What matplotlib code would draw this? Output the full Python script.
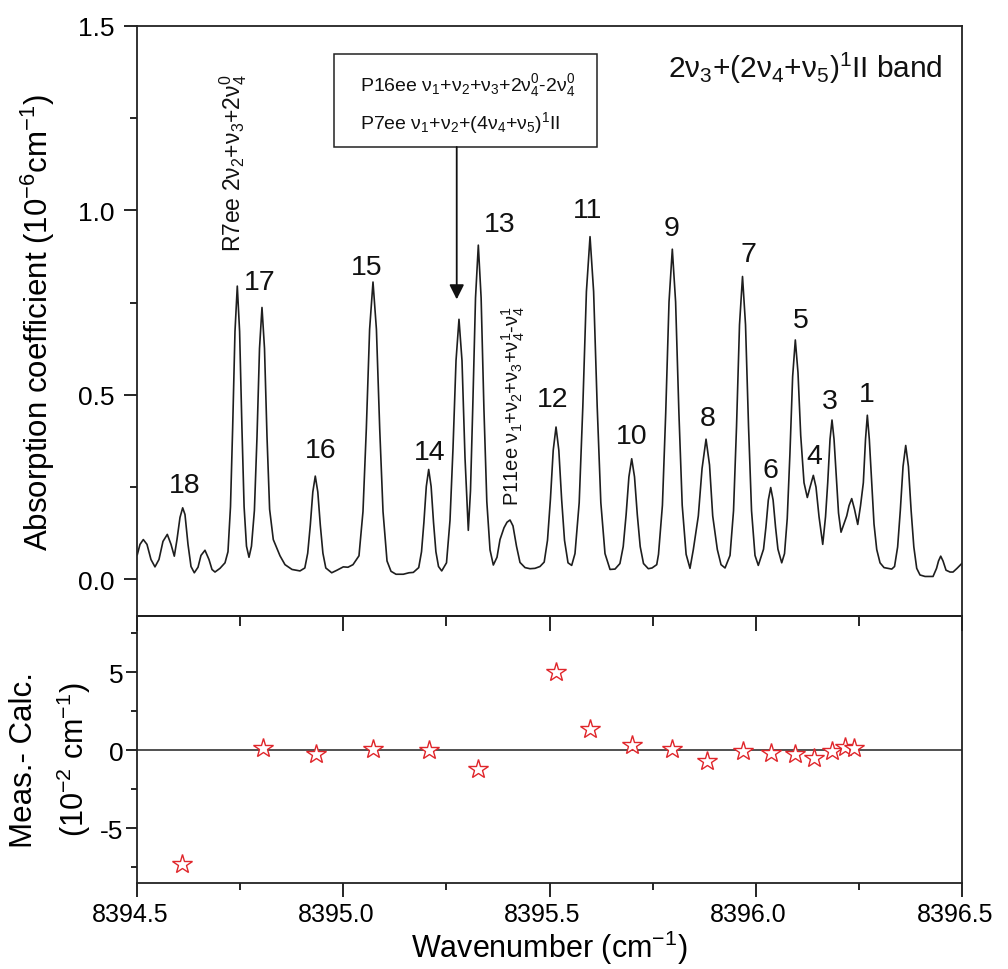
import matplotlib
matplotlib.use('Agg')
import matplotlib.pyplot as plt
import matplotlib.transforms as mtransforms
from matplotlib.ticker import MultipleLocator, FormatStrFormatter
from matplotlib.patches import Rectangle

plt.rcParams['font.family'] = ['Liberation Sans', 'DejaVu Sans']
plt.rcParams['mathtext.fontset'] = 'custom'
plt.rcParams['mathtext.rm'] = 'Liberation Sans'
plt.rcParams['mathtext.it'] = 'Liberation Sans'
plt.rcParams['mathtext.bf'] = 'Liberation Sans:bold'
plt.rcParams['mathtext.default'] = 'regular'
plt.rcParams['axes.unicode_minus'] = False

# ---------------- data ----------------
wavenumber = [
    8394.5000, 8394.5066, 8394.5146, 8394.5235, 8394.5332, 8394.5429, 8394.5526, 8394.5623, 8394.5728, 8394.5818,
    8394.5898, 8394.5963, 8394.6036, 8394.6101, 8394.6157, 8394.6230, 8394.6303, 8394.6383, 8394.6473, 8394.6545,
    8394.6642, 8394.6739, 8394.6812, 8394.6885, 8394.7006, 8394.7128,
    8394.7200, 8394.7261, 8394.7314, 8394.7370, 8394.7426, 8394.7482, 8394.7538, 8394.7591, 8394.7649, 8394.7710,
    8394.7770, 8394.7841, 8394.7904, 8394.7965, 8394.8025, 8394.8086, 8394.8147, 8394.8210, 8394.8299, 8394.8365,
    8394.8462, 8394.8583, 8394.8753, 8394.8947,
    8394.9064, 8394.9134, 8394.9197, 8394.9258, 8394.9318, 8394.9379, 8394.9440, 8394.9503, 8394.9573, 8394.9716,
    8394.9845, 8394.9998, 8395.0111, 8395.0233,
    8395.0378, 8395.0475, 8395.0556, 8395.0636, 8395.0718, 8395.0801, 8395.0881, 8395.0961, 8395.1058, 8395.1155,
    8395.1276, 8395.1453, 8395.1591, 8395.1696,
    8395.1827, 8395.1895, 8395.1953, 8395.2011, 8395.2069, 8395.2128, 8395.2186, 8395.2244, 8395.2307, 8395.2385,
    8395.2501, 8395.2586, 8395.2659, 8395.2732, 8395.2804, 8395.2877, 8395.2950, 8395.3030,
    8395.3083, 8395.3137, 8395.3205, 8395.3273, 8395.3341, 8395.3409, 8395.3479, 8395.3557, 8395.3637, 8395.3726,
    8395.3799, 8395.3896, 8395.3969, 8395.4042, 8395.4114, 8395.4199, 8395.4284, 8395.4406, 8395.4527, 8395.4648,
    8395.4769,
    8395.4871, 8395.4951, 8395.5022, 8395.5090, 8395.5158, 8395.5226, 8395.5294, 8395.5364, 8395.5449, 8395.5538,
    8395.5618, 8395.5720, 8395.5808, 8395.5895, 8395.5983, 8395.6070, 8395.6157, 8395.6245, 8395.6346, 8395.6468,
    8395.6589,
    8395.6708, 8395.6788, 8395.6858, 8395.6926, 8395.6994, 8395.7062, 8395.7130, 8395.7200, 8395.7280, 8395.7397,
    8395.7487, 8395.7601,
    8395.7644, 8395.7739, 8395.7819, 8395.7899, 8395.7979, 8395.8059, 8395.8139, 8395.8219, 8395.8314, 8395.8408,
    8395.8489, 8395.8610, 8395.8700, 8395.8797, 8395.8882, 8395.8959, 8395.9071, 8395.9161, 8395.9258,
    8395.9379, 8395.9464, 8395.9537, 8395.9609, 8395.9682, 8395.9755, 8395.9828, 8395.9901, 8395.9985, 8396.0065,
    8396.0192, 8396.0250, 8396.0308, 8396.0366, 8396.0424, 8396.0483, 8396.0541, 8396.0633,
    8396.0701, 8396.0767, 8396.0832, 8396.0898, 8396.0963, 8396.1028, 8396.1094, 8396.1174, 8396.1254,
    8396.1320, 8396.1400, 8396.1465, 8396.1538, 8396.1628,
    8396.1696, 8396.1749, 8396.1805, 8396.1853, 8396.1902, 8396.1967, 8396.2011, 8396.2072,
    8396.2210, 8396.2266, 8396.2331, 8396.2399, 8396.2477,
    8396.2545, 8396.2613, 8396.2666, 8396.2710, 8396.2758, 8396.2817, 8396.2872, 8396.2938, 8396.3018, 8396.3115,
    8396.3302,
    8396.3370, 8396.3445, 8396.3510, 8396.3576, 8396.3641, 8396.3707, 8396.3772, 8396.3838, 8396.3908, 8396.3988,
    8396.4110, 8396.4304,
    8396.4389, 8396.4437, 8396.4490, 8396.4546, 8396.4619, 8396.4716, 8396.4789, 8396.4886, 8396.5000,
]

absorption = [
    0.067, 0.095, 0.108, 0.095, 0.054, 0.034, 0.054, 0.103, 0.122, 0.095,
    0.063, 0.108, 0.168, 0.194, 0.176, 0.095, 0.035, 0.018, 0.033, 0.065,
    0.079, 0.054, 0.027, 0.020, 0.030, 0.045,
    0.075, 0.197, 0.413, 0.672, 0.795, 0.672, 0.413, 0.197, 0.090, 0.060,
    0.090, 0.187, 0.386, 0.626, 0.737, 0.626, 0.386, 0.190, 0.108, 0.090,
    0.064, 0.040, 0.027, 0.023,
    0.031, 0.071, 0.147, 0.237, 0.280, 0.237, 0.147, 0.071, 0.031, 0.018,
    0.025, 0.034, 0.033, 0.040,
    0.064, 0.184, 0.408, 0.678, 0.806, 0.678, 0.408, 0.184, 0.050, 0.022,
    0.014, 0.014, 0.018, 0.019,
    0.032, 0.075, 0.155, 0.252, 0.298, 0.252, 0.155, 0.075, 0.035, 0.023,
    0.045, 0.160, 0.356, 0.593, 0.705, 0.593, 0.330, 0.133,
    0.240, 0.462, 0.763, 0.906, 0.763, 0.462, 0.211, 0.080, 0.039, 0.060,
    0.108, 0.140, 0.155, 0.161, 0.145, 0.090, 0.046, 0.032, 0.029, 0.030,
    0.035,
    0.047, 0.106, 0.217, 0.350, 0.413, 0.350, 0.217, 0.106, 0.045, 0.038,
    0.070, 0.208, 0.468, 0.780, 0.929, 0.780, 0.468, 0.208, 0.070, 0.027,
    0.028,
    0.043, 0.089, 0.175, 0.278, 0.327, 0.278, 0.175, 0.089, 0.043, 0.029,
    0.031, 0.040,
    0.068, 0.201, 0.451, 0.752, 0.895, 0.752, 0.451, 0.201, 0.068, 0.030,
    0.081, 0.172, 0.300, 0.380, 0.310, 0.172, 0.081, 0.040, 0.031,
    0.065, 0.186, 0.415, 0.690, 0.821, 0.690, 0.415, 0.186, 0.065, 0.038,
    0.082, 0.142, 0.215, 0.249, 0.215, 0.142, 0.082, 0.045,
    0.070, 0.165, 0.340, 0.550, 0.649, 0.560, 0.390, 0.262, 0.222,
    0.250, 0.282, 0.250, 0.170, 0.095,
    0.170, 0.262, 0.380, 0.432, 0.380, 0.262, 0.180, 0.128,
    0.172, 0.200, 0.219, 0.190, 0.149,
    0.200, 0.262, 0.380, 0.445, 0.380, 0.262, 0.150, 0.081, 0.045, 0.032,
    0.028,
    0.035, 0.088, 0.187, 0.306, 0.363, 0.306, 0.187, 0.088, 0.030, 0.012,
    0.008, 0.008,
    0.030, 0.050, 0.063, 0.050, 0.025, 0.020, 0.020, 0.030, 0.043,
]

# residuals (Meas. - Calc.), 10^-2 cm^-1
res_wavenumber = [8394.6092, 8394.8057, 8394.9328, 8395.0711, 8395.2077, 8395.3273,
                  8395.5158, 8395.5990, 8395.7001, 8395.7979, 8395.8814, 8395.9687,
                  8396.0373, 8396.0956, 8396.1417, 8396.1846, 8396.2169, 8396.2387]
res_value = [-7.26, 0.17, -0.24, 0.08, 0.00, -1.17,
             5.00, 1.37, 0.34, 0.08, -0.69, -0.06,
             -0.15, -0.21, -0.47, -0.04, 0.22, 0.15]

# line numbers (text) shown above the peaks
line_numbers = ['18', '17', '16', '15', '14', '13', '12', '11', '10',
                '9', '8', '7', '6', '5', '4', '3', '1']
# layout: where each line number is written (data coordinates)
line_number_pos = [(8394.614, 0.255), (8394.798, 0.805), (8394.944, 0.351), (8395.057, 0.848),
                   (8395.210, 0.344), (8395.378, 0.963), (8395.508, 0.488), (8395.593, 1.001),
                   (8395.700, 0.389), (8395.795, 0.952), (8395.883, 0.437), (8395.982, 0.881),
                   (8396.037, 0.297), (8396.109, 0.702), (8396.142, 0.334), (8396.181, 0.484),
                   (8396.270, 0.502)]

x_ticks = [8394.5, 8395.0, 8395.5, 8396.0, 8396.5]

# ---------------- figure ----------------
fig = plt.figure(figsize=(10.08, 9.70), dpi=100)
ax1 = fig.add_axes([0.1362, 0.3636, 0.8179, 0.6086])
ax2 = fig.add_axes([0.1362, 0.0887, 0.8179, 0.2749])

for ax in (ax1, ax2):
    for s in ax.spines.values():
        s.set_linewidth(1.3)
        s.set_color('#222222')

# upper panel
ax1.plot(wavenumber, absorption, color='#1e1e1e', lw=1.2, solid_joinstyle='round')
ax1.set_xlim(8394.5, 8396.5)
ax1.set_ylim(-0.1, 1.5)
ax1.set_xticks([])
ax1.yaxis.set_major_locator(MultipleLocator(0.5))
ax1.yaxis.set_minor_locator(MultipleLocator(0.25))
ax1.yaxis.set_major_formatter(FormatStrFormatter('%.1f'))
ax1.tick_params(axis='y', which='major', direction='out', length=9.5, width=1.2,
                labelsize=19, pad=7, right=False)
ax1.tick_params(axis='y', which='minor', direction='out', length=5, width=1.2, right=False)
ax1.set_ylabel(r'Absorption coefficient (10$^{-6}$cm$^{-1}$)', fontsize=22.5)
ax1.yaxis.set_label_coords(-0.097, 0.5)

for txt, (px, py) in zip(line_numbers, line_number_pos):
    ax1.text(px, py, txt, fontsize=20.5, ha='center', va='center', color='#111111')

ax1.text(8394.733, 0.889, r'R7ee 2$\nu_2$+$\nu_3$+2$\nu_4^0$', rotation=90,
         fontsize=16.5, ha='center', va='bottom', color='#111111')
ax1.text(8395.411, 0.203, r'P11ee $\nu_1$+$\nu_2$+$\nu_3$+$\nu_4^1$-$\nu_4^1$', rotation=90,
         fontsize=14.5, ha='center', va='bottom', color='#111111')

ax1.text(8395.787, 1.363, r'2$\nu_3$+(2$\nu_4$+$\nu_5$)$^1$II band', fontsize=21.5,
         ha='left', va='baseline', color='#111111')

box = Rectangle((8394.978, 1.172), 8395.616 - 8394.978, 1.424 - 1.172,
                fill=False, edgecolor='#222222', lw=1.1)
ax1.add_patch(box)
ax1.text(8395.040, 1.342, r'P16ee $\nu_1$+$\nu_2$+$\nu_3$+2$\nu_4^0$-2$\nu_4^0$',
         fontsize=14, ha='left', va='center', color='#111111')
ax1.text(8395.040, 1.239, r'P7ee $\nu_1$+$\nu_2$+(4$\nu_4$+$\nu_5$)$^1$II',
         fontsize=14, ha='left', va='center', color='#111111')
ax1.annotate('', xy=(8395.2749, 0.759), xytext=(8395.2749, 1.172),
             arrowprops=dict(arrowstyle='-|>', color='#111111', lw=1.3,
                             mutation_scale=22, shrinkA=0, shrinkB=0))

# lower panel
ax2.axhline(0, color='#222222', lw=1.1)
ax2.plot(res_wavenumber, res_value, linestyle='none', marker='*', markersize=15,
         markerfacecolor='white', markeredgecolor='#e0262b', markeredgewidth=1.0)
ax2.set_xlim(8394.5, 8396.5)
ax2.set_ylim(-8.5, 8.6)
ax2.set_xticks(x_ticks)
ax2.xaxis.set_minor_locator(MultipleLocator(0.25))
ax2.xaxis.set_major_formatter(FormatStrFormatter('%.1f'))
ax2.yaxis.set_major_locator(MultipleLocator(5))
ax2.yaxis.set_minor_locator(MultipleLocator(2.5))
ax2.yaxis.set_major_formatter(FormatStrFormatter('%d'))
ax2.tick_params(axis='x', which='major', direction='out', length=10, width=1.2,
                labelsize=18, pad=4, top=False)
ax2.tick_params(axis='x', which='minor', direction='out', length=5, width=1.2, top=False)
ax2.tick_params(axis='y', which='major', direction='out', length=8, width=1.2,
                labelsize=19, pad=2, right=False)
ax2.tick_params(axis='y', which='minor', direction='out', length=4.5, width=1.2, right=False)
ax2.set_xlabel(r'Wavenumber (cm$^{-1}$)', fontsize=22, labelpad=1)

shift = mtransforms.ScaledTranslation(-0.07, 0, fig.dpi_scale_trans)
for lab in ax2.get_xticklabels():
    lab.set_transform(lab.get_transform() + shift)

# ticks pointing down from the panel divider
sec = ax2.secondary_xaxis('top')
sec.set_xticks(x_ticks)
sec.xaxis.set_minor_locator(MultipleLocator(0.25))
sec.tick_params(axis='x', which='major', direction='in', length=11, width=1.2, labeltop=False)
sec.tick_params(axis='x', which='minor', direction='in', length=7.5, width=1.2, labeltop=False)
sec.set_xticklabels([])
sec.spines['top'].set_linewidth(1.3)

fig.text(0.024, 0.2165, 'Meas.- Calc.', rotation=90, fontsize=22.5, ha='center', va='center')
fig.text(0.073, 0.2165, r'(10$^{-2}$ cm$^{-1}$)', rotation=90, fontsize=22, ha='center', va='center')

fig.savefig('out.png', dpi=100)
